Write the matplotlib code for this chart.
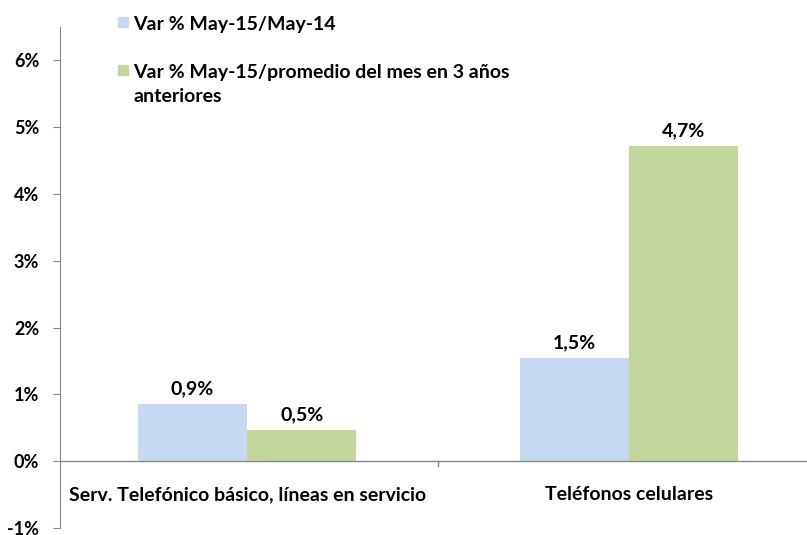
import numpy as np
import matplotlib.pyplot as plt
from matplotlib.patches import Rectangle
from matplotlib.ticker import FuncFormatter

# data
categories = ['Serv. Telefónico básico, líneas en servicio', 'Teléfonos celulares']
series_names = ['Var % May-15/May-14', 'Var % May-15/promedio del mes en 3 años\nanteriores']
series_colors = ['#C6D9F1', '#C3D69B']
var_anual = [0.85, 1.54]
var_promedio = [0.46, 4.72]
label_anual = ['0,9%', '1,5%']
label_promedio = ['0,5%', '4,7%']

plt.rcParams['font.family'] = ['Lato', 'DejaVu Sans']
plt.rcParams['font.weight'] = 'bold'

fig = plt.figure(figsize=(8.07, 5.35), dpi=100)
ax = fig.add_axes([0.0743, 0.0131, 0.9257, 0.9364])

x = np.arange(len(categories))
w = 0.286
b1 = ax.bar(x - w / 2, var_anual, w, color=series_colors[0])
b2 = ax.bar(x + w / 2, var_promedio, w, color=series_colors[1])

ax.bar_label(b1, labels=label_anual, padding=5, fontsize=14, fontweight='bold')
ax.bar_label(b2, labels=label_promedio, padding=5, fontsize=14, fontweight='bold')

ax.set_ylim(-1, 6.5)
ax.set_xlim(-0.49, 1.466)
ax.set_yticks(range(-1, 7))
ax.yaxis.set_major_formatter(FuncFormatter(lambda v, p: f'{int(v)}%'))

# spines
for s in ['top', 'right', 'bottom']:
    ax.spines[s].set_visible(False)
ax.spines['left'].set_color('#868686')
ax.axhline(0, color='#868686', lw=1)
ax.tick_params(axis='y', colors='#868686', labelcolor='black', labelsize=13, length=5, pad=10)

# category labels and separator on the zero line
ax.set_xticks([])
for i, c in enumerate(categories):
    ax.text(x[i], -0.5, c, ha='center', va='center', fontsize=14, fontweight='bold')
ax.plot([0.5, 0.5], [0, -0.07], color='#868686', lw=1, clip_on=False)

# legend, square aligned with first text line
legend_y = [0.958, 0.868]
for name, col, ly in zip(series_names, series_colors, legend_y):
    fig.patches.append(Rectangle((0.146, ly - 0.009), 0.0125, 0.019,
                                 transform=fig.transFigure, color=col))
    fig.text(0.165, ly + 0.012, name, ha='left', va='top', fontsize=14,
             fontweight='bold', linespacing=1.45)

fig.savefig('out.png', dpi=100)
